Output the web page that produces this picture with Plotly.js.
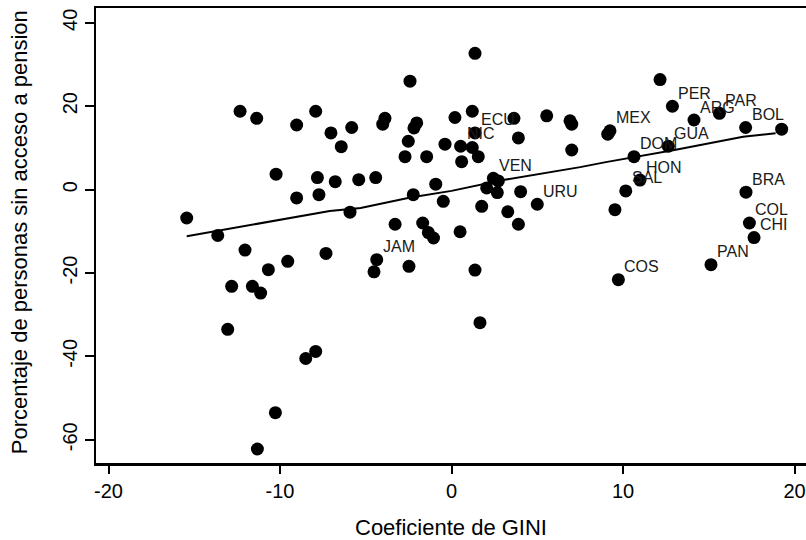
<!DOCTYPE html>
<html>
<head>
<meta charset="utf-8">
<script src="https://cdn.plot.ly/plotly-3.0.1.min.js"></script>
<style>html,body{margin:0;padding:0;background:#fff;}#chart{width:806px;height:540px;}</style>
</head>
<body>
<div id="chart"></div>
<script>
// Coeficiente de GINI (x) and % persons without pension access (y)
const gini = [
  12.88, 14.14, 15.62, 17.15, 9.24, 12.64, 10.64, 10.99, 10.16, 1.37, 0.53, 2.44, 5.0, -4.36, 17.17, 17.37, 17.64, 15.13, 9.73,
  -2.42, -12.33, -11.36, -9.03, -7.92, -7.03, -5.82, -6.43, -3.88, -4.01, -2.03, -2.19, -2.52, -2.71, -1.45, -0.38,
  -10.23, -7.82, -6.78, -5.41, -4.42, -9.03, -7.73, -5.92, -2.23, -0.92, -0.48, -15.44, -13.63, -3.29, -1.68, -1.35, -1.05,
  -12.04, -9.55, -10.68, -7.32, -12.82, -11.61, -11.13, -13.05, -7.92, -8.50, -10.27, -11.32, -4.52, -2.48,
  1.37, 12.16, 19.25, 1.21, 0.20, 3.64, 5.55, 6.91, 7.01, 9.11, 3.90, 1.21, 1.56, 0.59, 7.01, 9.53,
  2.73, 2.05, 2.67, 4.03, 1.76, 3.28, 3.90, 0.5, 1.37, 1.66
];
const sinPension = [
  20.0, 16.7, 18.3, 14.9, 14.1, 10.4, 7.9, 2.3, -0.3, 13.6, 10.4, 2.7, -3.5, -16.8, -0.6, -8.0, -11.5, -18.0, -21.6,
  26.0, 18.8, 17.1, 15.5, 18.8, 13.6, 14.9, 10.3, 17.1, 15.7, 16.0, 14.8, 11.6, 7.9, 7.9, 10.9,
  3.7, 2.9, 1.9, 2.4, 2.9, -2.0, -1.2, -5.4, -1.2, 1.3, -2.8, -6.8, -11.0, -8.3, -8.0, -10.3, -11.6,
  -14.5, -17.2, -19.2, -15.3, -23.2, -23.2, -24.8, -33.5, -38.8, -40.5, -53.5, -62.2, -19.7, -18.4,
  32.7, 26.4, 14.5, 18.8, 17.3, 17.1, 17.7, 16.5, 15.7, 13.3, 12.4, 10.1, 7.9, 6.7, 9.5, -4.8,
  2.1, 0.4, -0.7, -0.5, -4.0, -5.3, -8.3, -10.1, -19.3, -31.9
];
// Country codes for the first points (the rest are unlabeled)
const pais = [
  "PER", "ARG", "PAR", "BOL", "MEX", "GUA", "DOM", "HON", "SAL", "ECU", "NIC", "VEN", "URU", "JAM", "BRA", "COL", "CHI", "PAN", "COS"
];

// Smoothed fit line
const ajusteX = [-15.44, -10.5, -7.1, -5.3, -2.4, 0, 3, 7.5, 9, 13, 17, 18.9];
const ajusteY = [-11.2, -7.6, -5.1, -4.4, -1.9, -0.3, 2.3, 5.4, 6.6, 9.5, 12.7, 13.5];

// Axis ticks
const xTicks = [-20, -10, 0, 10, 20];
const yTicks = [-60, -40, -20, 0, 20, 40];

const FONT = "'Liberation Sans', Arial, Helvetica, sans-serif";

const traces = [
  {
    type: "scatter", mode: "markers",
    x: gini, y: sinPension,
    marker: {color: "#000", size: 13, line: {width: 0}},
    cliponaxis: false,
    hoverinfo: "x+y"
  },
  {
    type: "scatter", mode: "lines",
    x: ajusteX, y: ajusteY,
    line: {color: "#000", width: 2},
    hoverinfo: "skip"
  }
];

const annotations = pais.map((p, i) => ({
  x: gini[i], y: sinPension[i], xref: "x", yref: "y",
  text: p, showarrow: false,
  xanchor: "left", yanchor: "middle",
  xshift: 4, yshift: 13,
  font: {family: FONT, size: 16, color: "#1a1a1a"}
}));

annotations.push({
  xref: "paper", yref: "paper",
  x: (19 - 96) / 710, y: (462.7 - 232) / 454.7,
  xanchor: "center", yanchor: "middle",
  textangle: -90, showarrow: false,
  text: "Porcentaje de personas sin acceso a pension",
  font: {family: FONT, size: 22, color: "#000"}
});

const layout = {
  width: 806, height: 540,
  margin: {l: 96, r: 0, t: 8, b: 77},
  paper_bgcolor: "#fff", plot_bgcolor: "#fff",
  showlegend: false,
  font: {family: FONT, color: "#000"},
  annotations: annotations,
  xaxis: {
    range: [-20.73, 20.67],
    tickvals: xTicks, ticktext: xTicks.map(String),
    ticks: "outside", ticklen: 8, tickwidth: 2, tickcolor: "#000",
    tickfont: {family: FONT, size: 20, color: "#000"},
    showline: true, linecolor: "#000", linewidth: 2.5, mirror: true,
    showgrid: false, zeroline: false,
    title: {text: "Coeficiente de GINI", font: {family: FONT, size: 22, color: "#000"}, standoff: 25}
  },
  yaxis: {
    range: [-65.56, 43.56],
    tickvals: yTicks, ticktext: yTicks.map(String),
    tickangle: -90,
    ticks: "outside", ticklen: 9, tickwidth: 2, tickcolor: "#000",
    tickfont: {family: FONT, size: 20, color: "#000"},
    showline: true, linecolor: "#000", linewidth: 2.5, mirror: false,
    showgrid: false, zeroline: false
  }
};

Plotly.newPlot("chart", traces, layout, {staticPlot: true, displayModeBar: false});
</script>
</body>
</html>
